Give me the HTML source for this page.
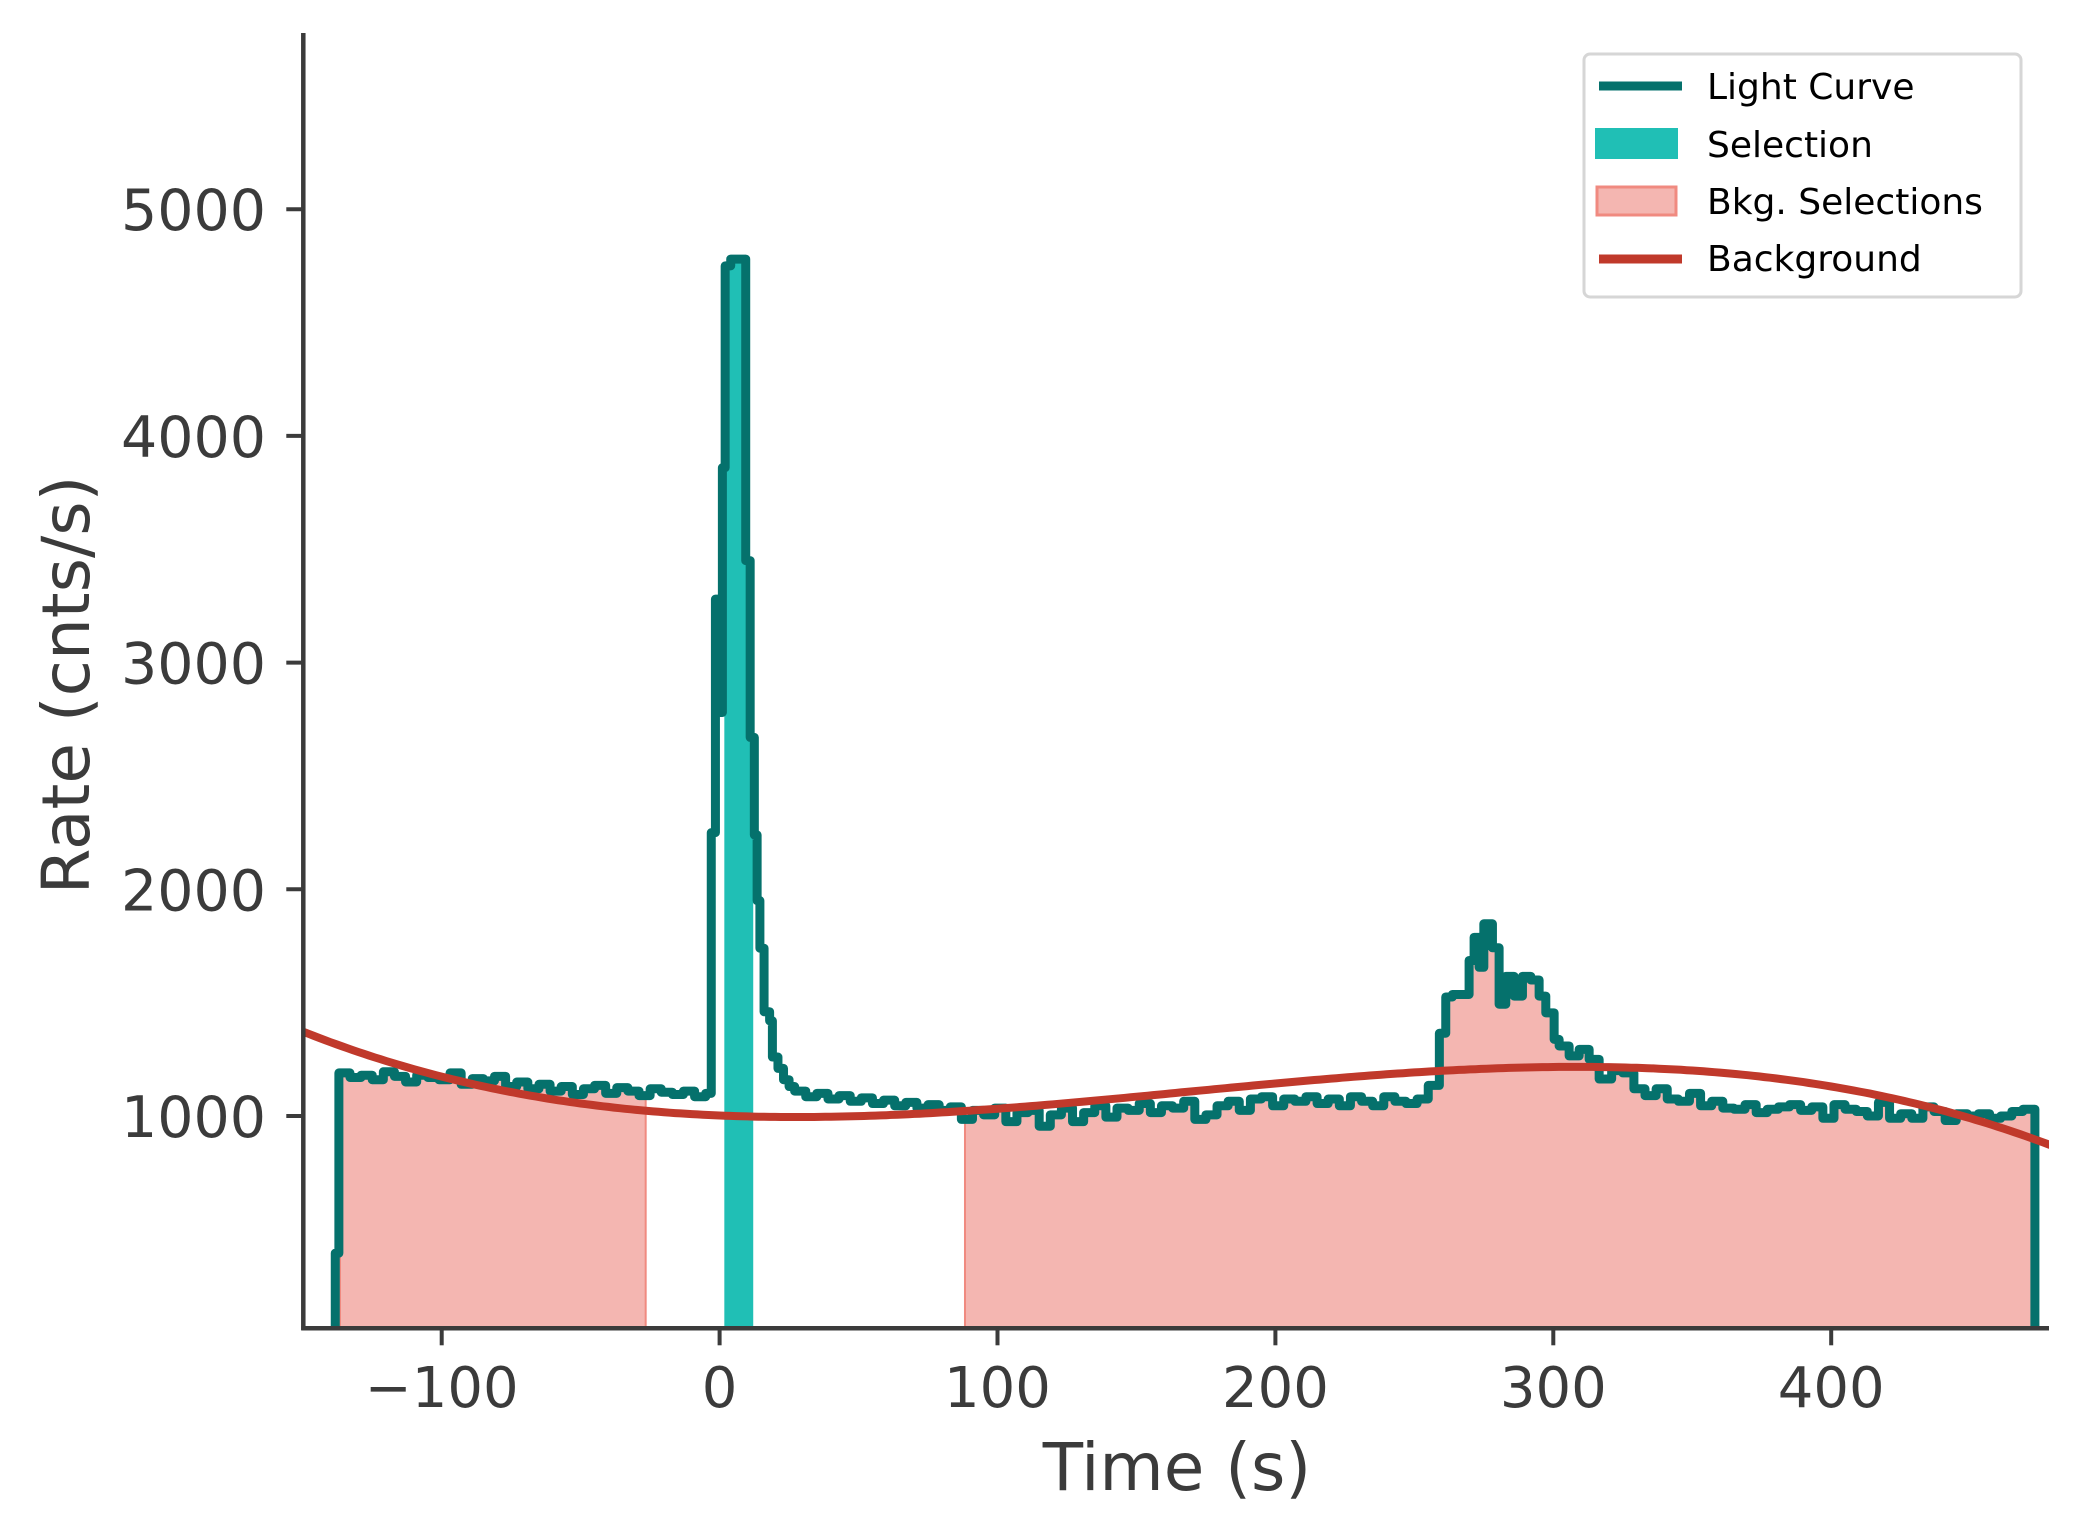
<!DOCTYPE html>
<html><head><meta charset="utf-8"><style>
html,body{margin:0;padding:0;background:#fff;}
svg{display:block;}
text{font-family:"DejaVu Sans","Liberation Sans",sans-serif;fill:#3b3b3b;}
</style></head><body>
<svg id="chart" width="2074" height="1540" viewBox="0 0 2074 1540" xmlns="http://www.w3.org/2000/svg">
<defs><clipPath id="plotclip"><rect x="305" y="20" width="1744" height="1308"/></clipPath></defs>
<g id="fills" clip-path="url(#plotclip)"></g>
<g id="lines" clip-path="url(#plotclip)"></g>
<g id="axes"></g>
<g id="legend">
  <rect x="1584" y="54" width="437" height="243" rx="6" fill="#fff" stroke="#d6d6d6" stroke-width="3"/>
  <line x1="1599" y1="86" x2="1682" y2="86" stroke="#05716c" stroke-width="9"/>
  <text x="1707" y="99" font-size="36" style="fill:#000">Light Curve</text>
  <rect x="1595" y="128" width="83" height="31" fill="#20bfb5"/>
  <text x="1707" y="157" font-size="36" style="fill:#000">Selection</text>
  <rect x="1597" y="187" width="79" height="28" fill="#f4b6b1" stroke="#f08a80" stroke-width="3"/>
  <text x="1707" y="214" font-size="36" style="fill:#000">Bkg. Selections</text>
  <line x1="1599" y1="259" x2="1682" y2="259" stroke="#c0392b" stroke-width="9"/>
  <text x="1707" y="271" font-size="36" style="fill:#000">Background</text>
</g>
</svg>
<script>
const xTicks = [-100, 0, 100, 200, 300, 400];
const xTickLabels = ["\u2212100", "0", "100", "200", "300", "400"];
const yTicks = [1000, 2000, 3000, 4000, 5000];
const yTickLabels = ["1000", "2000", "3000", "4000", "5000"];

const riseTimes = [-138.3];
const riseRates = [395];
const leftStart = -137, leftStep = 4;
const leftRates = [1190,1170,1180,1160,1195,1175,1150,1180,1170,1160,1190,1140,1165,1155,1175,1130,1150,1120,1140,1110,1130,1095,1120,1135,1100,1125,1110,1090,1120,1105,1095,1110,1085];
const peakTimes = [-5,-3,-1.5,0,1,2,4,9.4,11,12.5,13.5,14.5,16,18,19,21,23,25];
const peakRates = [1100,2250,3280,2780,3860,4750,4780,3450,2670,2240,1950,1740,1460,1420,1260,1210,1160,1130];
const midStart = 27, midStep = 4;
const midRates = [1110,1085,1100,1075,1090,1065,1080,1055,1070,1045,1060,1035,1050,1025,1040,985,1025,1005,1035,975,1015,1025,955,1005,1035,975,1015,1045,995,1035,1025,1055,1015,1045,1035,1065,985,1005,1045,1065,1025,1075,1085,1045,1075,1065,1085,1055,1075,1045,1085,1065,1045,1085,1065,1055,1075,1135];
const humpTimes = [259,261.3,263.7,269.7,271.5,273.3,275,278.1,280.5,282.9,285.9,288.9,291.9,294.9,297.3,300.3,302.1,305.7,309.3,312.9,316.5];
const humpRates = [1365,1525,1536,1686,1788,1656,1848,1742,1493,1616,1529,1616,1600,1529,1455,1338,1309,1265,1294,1250,1163];
const rightStart = 321, rightStep = 4;
const rightRates = [1200,1190,1120,1090,1120,1075,1065,1100,1045,1065,1035,1030,1050,1015,1030,1040,1050,1025,1040,990,1050,1030,1020,1000,1060,990,1010,990,1040,1020,980,1010,1000,1010,990,1000,1020,1030];
const curveEnd = 473.3;

const selectionRange = [1.7, 12.1];
const bkgRanges = [[-136.6, -26.6], [88.3, 473.3]];

const bgTimes = [-150,-100,-50,0,25,100,200,300,400,450,478.5];
const bgRates = [1360,1185,1070,1000,990,1025,1140,1215,1140,1000,860];

const PL = 303.3, PR = 2049, PT = 33, PB = 1328.3;
function X(t){ return 719.6 + t * 2.779; }
function Y(r){ return 1342.7 - r * 0.2267; }
const NS = "http://www.w3.org/2000/svg";
function el(tag, attrs, parent){ const e=document.createElementNS(NS,tag); for(const k in attrs) e.setAttribute(k, attrs[k]); parent.appendChild(e); return e; }

const bins = [];
function addExplicit(times, rates, endT){ for(let i=0;i<times.length;i++){ const t1 = i+1<times.length?times[i+1]:endT; bins.push([times[i], t1, rates[i]]); } }
function addRegular(t0, dt, rates){ rates.forEach((r,i)=>bins.push([t0+i*dt, t0+(i+1)*dt, r])); }
addExplicit(riseTimes, riseRates, leftStart);
addRegular(leftStart, leftStep, leftRates);
addExplicit(peakTimes, peakRates, midStart);
addRegular(midStart, midStep, midRates);
addExplicit(humpTimes, humpRates, rightStart);
addRegular(rightStart, rightStep, rightRates);
if (bins.length) bins[bins.length-1][1] = Math.max(bins[bins.length-1][1], curveEnd);

function regionPath(a, b){
  let d = `M${X(a)},${PB+10}`;
  bins.forEach(([t0,t1,r])=>{
    const s=Math.max(t0,a), e=Math.min(t1,b);
    if (e> s){ d += ` L${X(s)},${Y(r)} L${X(e)},${Y(r)}`; }
  });
  d += ` L${X(b)},${PB+10} Z`;
  return d;
}
const fills = document.getElementById('fills');
bkgRanges.forEach((rg, i)=>{
  const p = el('path', {d: regionPath(rg[0], rg[1]), fill:'#f4b6b1', stroke:'#f08a80', 'stroke-width':2}, fills);
  
  
});
const sel = el('path', {d: regionPath(selectionRange[0], selectionRange[1]), fill:'#20bfb5'}, fills);



const lines = document.getElementById('lines');
let d = `M${X(bins[0][0])},${PB+10}`;
bins.forEach(([t0,t1,r])=>{ d += ` L${X(t0)},${Y(r)} L${X(t1)},${Y(r)}`; });
d += ` L${X(bins[bins.length-1][1])},${PB+10}`;
const lc = el('path', {d, fill:'none', stroke:'#05716c', 'stroke-width':9, 'stroke-linejoin':'round', 'stroke-linecap':'round'}, lines);



// background: least-squares cubic polynomial through bg points
function fitCubic(ts, rs){
  const s = 300, n = 4;
  const A = [...Array(n)].map(()=>Array(n+1).fill(0));
  ts.forEach((t,k)=>{
    const u = t/s; const p=[1,u,u*u,u*u*u];
    for(let i=0;i<n;i++){ for(let j=0;j<n;j++) A[i][j]+=p[i]*p[j]; A[i][n]+=p[i]*rs[k]; }
  });
  for(let i=0;i<n;i++){
    let m=i; for(let r=i+1;r<n;r++) if(Math.abs(A[r][i])>Math.abs(A[m][i])) m=r;
    [A[i],A[m]]=[A[m],A[i]];
    for(let r=0;r<n;r++){ if(r===i) continue; const f=A[r][i]/A[i][i]; for(let c=i;c<=n;c++) A[r][c]-=f*A[i][c]; }
  }
  const c = A.map((row,i)=>row[n]/row[i]);
  return t=>{ const u=t/s; return c[0]+c[1]*u+c[2]*u*u+c[3]*u*u*u; };
}
const bgf = fitCubic(bgTimes, bgRates);
let bd = '';
for (let t=-152; t<=480; t+=2){ bd += (bd===''?'M':' L') + X(t).toFixed(1)+','+Y(bgf(t)).toFixed(1); }
const bg = el('path', {d: bd, fill:'none', stroke:'#c0392b', 'stroke-width':8}, lines);



const axes = document.getElementById('axes');
const ya = el('line', {x1:PL, y1:PT, x2:PL, y2:PB+2, stroke:'#3b3b3b', 'stroke-width':4.5}, axes);


const xa = el('line', {x1:PL-2, y1:PB, x2:PR, y2:PB, stroke:'#3b3b3b', 'stroke-width':4.5}, axes);


xTicks.forEach((v,i)=>{
  const tk = el('line', {x1:X(v), y1:PB, x2:X(v), y2:PB+17, stroke:'#3b3b3b', 'stroke-width':4}, axes);
  
  
  const tx = el('text', {x:X(v), y:1407, 'font-size':56, 'text-anchor':'middle'}, axes);
  tx.textContent = xTickLabels[i];
  
  
});
yTicks.forEach((v,i)=>{
  const tk = el('line', {x1:PL-17, y1:Y(v), x2:PL, y2:Y(v), stroke:'#3b3b3b', 'stroke-width':4}, axes);
  
  
  const tx = el('text', {x:266, y:Y(v)+21, 'font-size':57, 'text-anchor':'end'}, axes);
  tx.textContent = yTickLabels[i];
  
  
});
const xl = el('text', {x:1177, y:1490, 'font-size':66, 'text-anchor':'middle'}, axes);
xl.textContent = 'Time (s)';


const yl = el('text', {x:0, y:0, 'font-size':66, 'text-anchor':'middle', transform:'translate(89,685) rotate(-90)'}, axes);
yl.textContent = 'Rate (cnts/s)';


</script>
</body></html>
